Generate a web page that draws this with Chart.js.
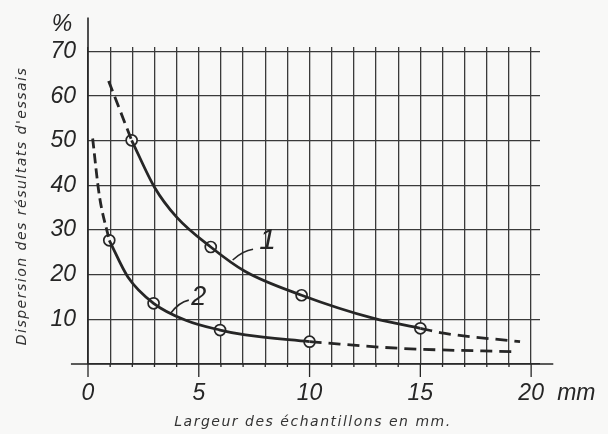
<!DOCTYPE html>
<html><head><meta charset="utf-8">
<script src="https://cdn.jsdelivr.net/npm/chart.js@4/dist/chart.umd.min.js"></script>
<style>html,body{margin:0;padding:0;background:#f8f8f7;}canvas{display:block}</style>
</head><body>
<canvas id="c" width="608" height="434"></canvas>
<script>
// ---- data ----
const curve1HeadX = [0.93, 1.97];
const curve1HeadY = [63.4, 50.1];
const curve1X = [1.97, 3.0, 4.0, 5.54, 7.1, 9.64, 12.9, 15.0];
const curve1Y = [50.1, 39.6, 32.9, 26.2, 20.7, 15.4, 10.2, 8.0];
const curve1TailX = [15.0, 16.05, 19.5];
const curve1TailY = [8.0, 6.9, 5.0];
const curve1MarkX = [1.97, 5.54, 9.64, 15.0];
const curve1MarkY = [50.1, 26.2, 15.4, 8.0];

const curve2HeadX = [0.21, 0.51, 0.96];
const curve2HeadY = [50.5, 37.8, 27.7];
const curve2X = [0.96, 1.8, 2.96, 4.41, 5.96, 7.1, 10.0];
const curve2Y = [27.7, 19.5, 13.6, 9.8, 7.6, 6.5, 5.0];
const curve2TailX = [10.0, 14.1, 19.3];
const curve2TailY = [5.0, 3.5, 2.75];
const curve2MarkX = [0.96, 2.96, 5.96, 10.0];
const curve2MarkY = [27.7, 13.6, 7.6, 5.0];

const xLabeled = [0, 5, 10, 15, 20];
const yLabeled = [10, 20, 30, 40, 50, 60, 70];
const curveNames = ['1', '2'];
const nameAt = [[8.1, 27.7], [5.0, 15.0]];
const leader1 = [[6.53, 23.3], [7.0, 25.4], [7.45, 25.7]];
const leader2 = [[3.74, 11.4], [4.1, 13.8], [4.55, 14.3]];
const xTitle = 'Largeur des échantillons en mm.';
const yTitle = "Dispersion des résultats d'essais";
const yUnit = '%';
const xUnit = 'mm';

// ---- helpers ----
const INK = '#262626';
const BG = '#f8f8f7';
const pts = (xs, ys) => xs.map((x, i) => ({x, y: ys[i]}));
const curveDs = (xs, ys, dash, w) => ({
  data: pts(xs, ys), borderColor: INK, borderWidth: w || 2.8, borderDash: dash || [],
  pointRadius: 0, cubicInterpolationMode: 'monotone', fill: false, borderCapStyle: 'butt'
});
const markDs = (xs, ys) => ({
  data: pts(xs, ys), showLine: false, pointRadius: 5.5, pointHoverRadius: 5.5,
  pointBackgroundColor: BG, pointBorderColor: INK, pointBorderWidth: 1.7
});
const tickFont = {family: 'Liberation Sans', style: 'italic', size: 23};

const deco = {
  id: 'deco',
  beforeDatasetsDraw(chart) {
    const ctx = chart.ctx, xs = chart.scales.x, ys = chart.scales.y;
    ctx.save();
    ctx.strokeStyle = INK; ctx.lineWidth = 1.6;
    const y0 = ys.getPixelForValue(0), x0 = xs.getPixelForValue(0);
    ctx.beginPath();
    ctx.moveTo(xs.getPixelForValue(-0.77), y0); ctx.lineTo(xs.getPixelForValue(21.0), y0);
    ctx.moveTo(x0, y0); ctx.lineTo(x0, ys.getPixelForValue(77.6));
    ctx.stroke();
    ctx.lineWidth = 1.3;
    ctx.beginPath();
    for (let v = 0; v <= 20; v++) {
      const px = xs.getPixelForValue(v);
      ctx.moveTo(px, y0); ctx.lineTo(px, y0 + (xLabeled.includes(v) ? 13 : 3));
    }
    ctx.stroke();
    ctx.restore();
  },
  afterDatasetsDraw(chart) {
    const ctx = chart.ctx, xs = chart.scales.x, ys = chart.scales.y;
    const P = (p) => [xs.getPixelForValue(p[0]), ys.getPixelForValue(p[1])];
    ctx.save();
    ctx.strokeStyle = INK; ctx.fillStyle = INK; ctx.lineWidth = 1.6;
    [leader1, leader2].forEach(l => {
      const a = P(l[0]), c = P(l[1]), b = P(l[2]);
      ctx.beginPath(); ctx.moveTo(a[0], a[1]); ctx.quadraticCurveTo(c[0], c[1], b[0], b[1]); ctx.stroke();
    });
    ctx.textAlign = 'center'; ctx.textBaseline = 'middle';
    curveNames.forEach((n, i) => {
      const p = P(nameAt[i]);
      ctx.font = 'italic ' + (i === 0 ? 30 : 27) + 'px "Liberation Sans"';
      ctx.fillText(n, p[0], p[1]);
    });
    ctx.font = 'italic 23px "Liberation Sans"';
    ctx.fillText(yUnit, xs.getPixelForValue(0) - 26, ys.getPixelForValue(70) - 27);
    ctx.textAlign = 'left';
    ctx.fillText(xUnit, xs.getPixelForValue(20) + 26, ys.getPixelForValue(0) + 30);
    const fit = (txt, width) => {
      ctx.letterSpacing = '0px';
      const w = ctx.measureText(txt).width;
      ctx.letterSpacing = Math.max(0, (width - w) / (txt.length - 1)).toFixed(2) + 'px';
    };
    ctx.fillStyle = '#333';
    ctx.font = 'italic 14px "DejaVu Sans"';
    ctx.textAlign = 'center';
    fit(xTitle, 276);
    ctx.fillText(xTitle, 313, 422);
    ctx.translate(22, 206); ctx.rotate(-Math.PI / 2);
    fit(yTitle, 277);
    ctx.fillText(yTitle, 0, 0);
    ctx.restore();
  }
};

new Chart(document.getElementById('c'), {
  type: 'line',
  data: {
    datasets: [
      curveDs(curve1HeadX, curve1HeadY, [11, 6]),
      curveDs(curve1X, curve1Y),
      curveDs(curve1TailX, curve1TailY, [12, 7]),
      curveDs(curve2HeadX, curve2HeadY, [10, 5]),
      curveDs(curve2X, curve2Y),
      curveDs(curve2TailX, curve2TailY, [12, 7]),
      markDs(curve1MarkX, curve1MarkY),
      markDs(curve2MarkX, curve2MarkY)
    ]
  },
  options: {
    responsive: false, animation: false,
    layout: {padding: {left: 0, top: 47, right: 68, bottom: 0}},
    plugins: {legend: {display: false}, tooltip: {enabled: false}},
    scales: {
      x: {
        type: 'linear', min: 0, max: 20.4,
        afterFit: s => { s.height = 70; },
        border: {display: false},
        grid: {color: '#3a3a3a', lineWidth: 1.3, drawTicks: false},
        ticks: {
          stepSize: 1, includeBounds: false, autoSkip: false, maxRotation: 0, padding: 16,
          color: INK, font: tickFont,
          callback: v => xLabeled.includes(v) ? String(v) : ''
        }
      },
      y: {
        type: 'linear', min: 0, max: 71,
        afterFit: s => { s.width = 88; },
        border: {display: false},
        grid: {color: '#3a3a3a', lineWidth: 1.3, drawTicks: false},
        ticks: {
          stepSize: 10, includeBounds: false, padding: 12,
          color: INK, font: tickFont,
          callback: v => yLabeled.includes(v) ? String(v) : ''
        }
      }
    }
  },
  plugins: [deco]
});
</script>
</body></html>
